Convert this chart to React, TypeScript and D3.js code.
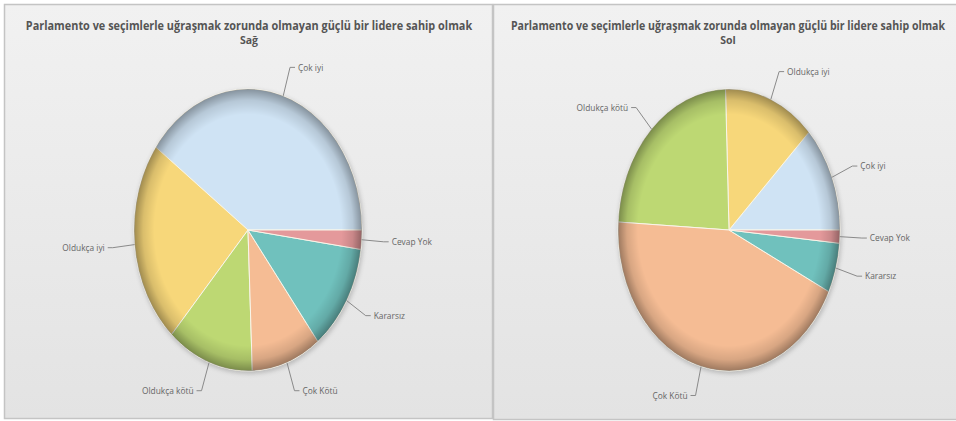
import React, { useLayoutEffect, useRef, useState } from "react";
import * as d3 from "d3";

const categories = ["Çok iyi", "Oldukça iyi", "Oldukça kötü", "Çok Kötü", "Kararsız", "Cevap Yok"];
const sagValues = [40.0, 23.3, 12.3, 9.9, 12.3, 2.2];
const solValues = [12.2, 13.3, 23.6, 43.7, 5.7, 1.5];
const sliceColors = ["#cfe3f4", "#f7d77a", "#bdd873", "#f5bc94", "#70c1bd", "#e4999b"];
const titleText = "Parlamento ve seçimlerle uğraşmak zorunda olmayan güçlü bir lidere sahip olmak";
const subtitles = ["Sağ", "Sol"];

type PieProps = { values: number[]; cx: number; cy: number; rx: number; ry: number; id: string };

function Pie({ values, cx, cy, rx, ry, id }: PieProps) {
  const pie = d3
    .pie<number>()
    .sort(null)
    .startAngle(Math.PI / 2)
    .endAngle(Math.PI / 2 - 2 * Math.PI);
  const arcs = pie(values);
  const R = 100;
  const arc = d3.arc<d3.PieArcDatum<number>>().innerRadius(0).outerRadius(R);
  const dx = 22;
  const dy = 30;
  const lsx = 0.88;
  return (
    <g>
      <defs>
        <radialGradient id={`bevel-${id}`} cx="0.5" cy="0.5" r="0.5">
          <stop offset="0" stopColor="#000" stopOpacity="0" />
          <stop offset="0.82" stopColor="#000" stopOpacity="0" />
          <stop offset="0.92" stopColor="#000" stopOpacity="0.12" />
          <stop offset="1" stopColor="#000" stopOpacity="0.36" />
        </radialGradient>
        <filter id={`blur-${id}`} x="-20%" y="-20%" width="140%" height="140%">
          <feGaussianBlur stdDeviation="2" />
        </filter>
      </defs>
      <ellipse cx={cx + 1} cy={cy + 2} rx={rx + 1} ry={ry + 1} fill="rgba(0,0,0,0.18)" filter={`url(#blur-${id})`} />
      <g transform={`translate(${cx},${cy}) scale(${rx / R},${ry / R})`}>
        {arcs.map((a, i) => (
          <path
            key={i}
            d={arc(a) || ""}
            fill={sliceColors[i]}
            stroke="#f9f6ea"
            strokeWidth={1}
            vectorEffect="non-scaling-stroke"
          />
        ))}
      </g>
      <ellipse cx={cx} cy={cy} rx={rx} ry={ry} fill={`url(#bevel-${id})`} />
      {arcs.map((a, i) => {
        const mid = (a.startAngle + a.endAngle) / 2;
        const ux = Math.sin(mid);
        const uy = -Math.cos(mid);
        const p1x = cx + rx * ux;
        const p1y = cy + ry * uy;
        const p2x = cx + (rx + dx) * ux;
        const p2y = cy + (ry + dy) * uy;
        const side = ux >= 0 ? 1 : -1;
        const p3x = p2x + side * 5;
        const tx = p3x + side * 3;
        return (
          <g key={`l${i}`}>
            <path
              d={`M${p1x},${p1y}L${p2x},${p2y}L${p3x},${p2y}`}
              fill="none"
              stroke="#8a8a8a"
              strokeWidth={1}
            />
            <text
              transform={`translate(${tx},${p2y}) scale(${lsx},1)`}
              dy="0.35em"
              textAnchor={side > 0 ? "start" : "end"}
              fontFamily="'Open Sans', sans-serif"
              fontSize={9.5}
              fill="#666"
            >
              {categories[i]}
            </text>
          </g>
        );
      })}
    </g>
  );
}

function FitTitle({ x, y, width, text }: { x: number; y: number; width: number; text: string }) {
  const ref = useRef<SVGTextElement>(null);
  const [sx, setSx] = useState(0.82);
  useLayoutEffect(() => {
    if (ref.current) {
      const len = ref.current.getComputedTextLength();
      if (len > 0) setSx(width / len);
    }
  }, [width, text]);
  return (
    <text
      ref={ref}
      transform={`translate(${x},${y}) scale(${sx},1)`}
      textAnchor="middle"
      fontFamily="'Open Sans', sans-serif"
      fontWeight="bold"
      fontSize={12.5}
      fill="#555"
    >
      {text}
    </text>
  );
}

type PanelProps = {
  x: number; y: number; w: number; h: number; sub: string; values: number[]; id: string;
  pcx: number; rx: number; tcx: number; tw: number;
};

function Panel({ x, y, w, h, sub, values, id, pcx, rx, tcx, tw }: PanelProps) {
  return (
    <g>
      <defs>
        <linearGradient id={`bg-${id}`} x1="0" y1="0" x2="0" y2="1">
          <stop offset="0" stopColor="#f1f1f1" />
          <stop offset="1" stopColor="#e3e3e3" />
        </linearGradient>
      </defs>
      <rect x={x + 0.5} y={y + 0.5} width={w} height={h} fill={`url(#bg-${id})`} stroke="#c4c4c4" strokeWidth={1.5} />
      <FitTitle x={tcx} y={y + 26} width={tw} text={titleText} />
      <text
        x={tcx}
        y={y + 40}
        textAnchor="middle"
        fontFamily="'Open Sans', sans-serif"
        fontWeight="bold"
        fontSize={10.5}
        fill="#555"
      >
        {sub}
      </text>
      <Pie values={values} cx={pcx} cy={230} rx={rx} ry={141} id={id} />
    </g>
  );
}

export default function App() {
  return (
    <div style={{ position: "absolute", left: 0, top: 0 }}>
      <svg width={956} height={421} style={{ display: "block", background: "#ffffff" }}>
        <Panel x={4} y={4} w={488} h={414} sub={subtitles[0]} values={sagValues} id="sag" pcx={248} rx={114} tcx={249} tw={446} />
        <Panel x={493} y={4} w={470} h={415} sub={subtitles[1]} values={solValues} id="sol" pcx={729} rx={111} tcx={728} tw={434} />
      </svg>
    </div>
  );
}
